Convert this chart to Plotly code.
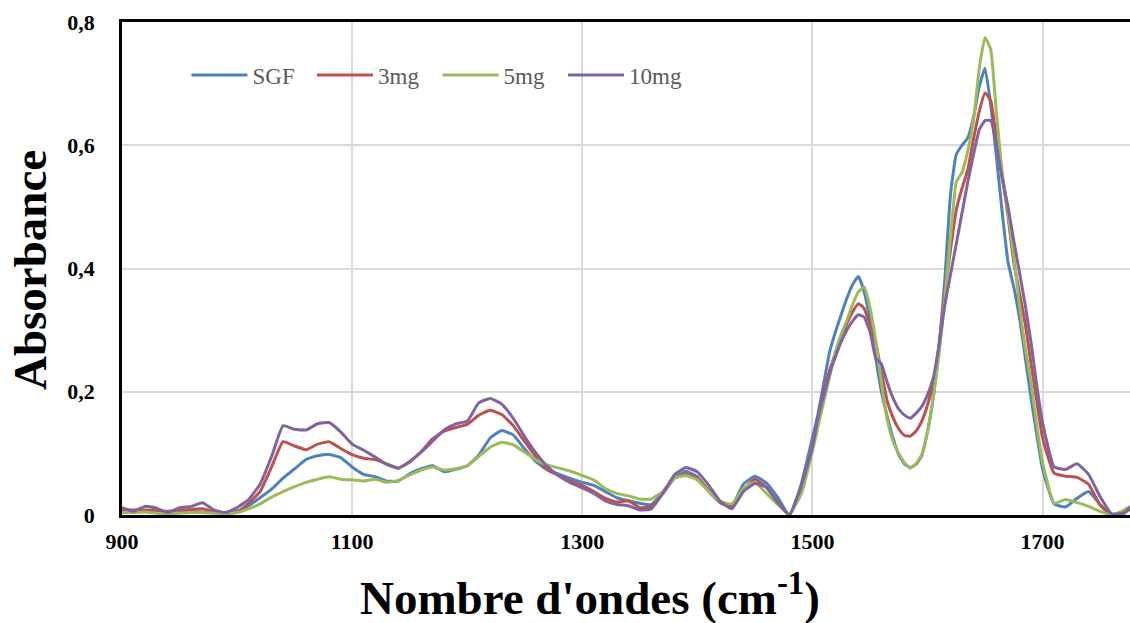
import plotly.graph_objects as go

# Wavenumber grid (cm-1)
wavenumber = (list(range(900, 1501, 10)) + list(range(1505, 1701, 5))
              + [1710, 1720, 1730, 1740, 1750, 1760, 1770, 1776])

sgf = [0.006, 0.005, 0.006, 0.004, 0.003, 0.004, 0.005, 0.005, 0.004, 0.003,
       0.006, 0.015, 0.028, 0.042, 0.060, 0.075, 0.090, 0.096, 0.098, 0.093,
       0.078, 0.066, 0.062, 0.055, 0.055, 0.067, 0.075, 0.080, 0.070, 0.074,
       0.080, 0.097, 0.125, 0.137, 0.130, 0.107, 0.086, 0.073, 0.066, 0.059,
       0.053, 0.048, 0.038, 0.028, 0.023, 0.019, 0.017, 0.036, 0.060, 0.071,
       0.062, 0.038, 0.020, 0.015, 0.050, 0.063, 0.052, 0.028, 0.000, 0.048,
       0.125,
       0.165, 0.215, 0.265, 0.297, 0.325, 0.352, 0.374, 0.387, 0.362, 0.316,
       0.255, 0.200, 0.160, 0.125, 0.098, 0.083, 0.077, 0.082, 0.096, 0.135,
       0.190, 0.270, 0.380, 0.520, 0.585, 0.600, 0.612, 0.645, 0.695, 0.725,
       0.665, 0.580, 0.490, 0.410, 0.370, 0.320, 0.255, 0.190, 0.130, 0.075,
       0.018, 0.013, 0.027, 0.038, 0.017, 0.000, 0.002, 0.012]

mg3 = [0.009, 0.008, 0.008, 0.007, 0.006, 0.008, 0.009, 0.010, 0.005, 0.001,
       0.005, 0.019, 0.038, 0.078, 0.119, 0.112, 0.106, 0.115, 0.119, 0.108,
       0.098, 0.092, 0.090, 0.083, 0.076, 0.086, 0.103, 0.124, 0.136, 0.142,
       0.147, 0.162, 0.170, 0.163, 0.145, 0.119, 0.094, 0.073, 0.064, 0.055,
       0.048, 0.038, 0.027, 0.021, 0.023, 0.012, 0.014, 0.035, 0.060, 0.066,
       0.060, 0.040, 0.020, 0.013, 0.040, 0.058, 0.045, 0.020, 0.000, 0.040,
       0.110,
       0.155, 0.200, 0.235, 0.262, 0.287, 0.311, 0.330, 0.343, 0.335, 0.310,
       0.280, 0.232, 0.185, 0.158, 0.140, 0.129, 0.128, 0.136, 0.152, 0.178,
       0.215, 0.275, 0.360, 0.430, 0.495, 0.530, 0.560, 0.610, 0.655, 0.685,
       0.672, 0.610, 0.550, 0.485, 0.410, 0.360, 0.310, 0.245, 0.185, 0.125,
       0.068, 0.063, 0.061, 0.050, 0.016, 0.000, 0.002, 0.010]

mg5 = [0.004, 0.004, 0.005, 0.003, 0.002, 0.003, 0.004, 0.004, 0.003, 0.002,
       0.004, 0.010, 0.018, 0.029, 0.038, 0.046, 0.053, 0.058, 0.062, 0.058,
       0.057, 0.055, 0.058, 0.053, 0.056, 0.065, 0.073, 0.078, 0.073, 0.075,
       0.080, 0.095, 0.110, 0.118, 0.114, 0.102, 0.089, 0.081, 0.076, 0.071,
       0.064, 0.057, 0.043, 0.035, 0.031, 0.026, 0.026, 0.038, 0.060, 0.064,
       0.057, 0.038, 0.022, 0.018, 0.043, 0.053, 0.035, 0.017, 0.002, 0.033,
       0.103,
       0.145, 0.185, 0.225, 0.265, 0.293, 0.316, 0.342, 0.362, 0.370, 0.337,
       0.283, 0.215, 0.155, 0.120, 0.100, 0.085, 0.076, 0.083, 0.098, 0.135,
       0.190, 0.260, 0.350, 0.450, 0.540, 0.556, 0.590, 0.640, 0.725, 0.775,
       0.755, 0.650, 0.555, 0.490, 0.420, 0.340, 0.270, 0.215, 0.145, 0.085,
       0.019, 0.025, 0.020, 0.014, 0.006, 0.000, 0.007, 0.014]

mg10 = [0.012, 0.006, 0.014, 0.011, 0.004, 0.012, 0.014, 0.020, 0.008, 0.004,
        0.012, 0.025, 0.050, 0.095, 0.145, 0.139, 0.138, 0.148, 0.150, 0.135,
        0.115, 0.105, 0.094, 0.082, 0.076, 0.087, 0.102, 0.120, 0.138, 0.148,
        0.152, 0.182, 0.189, 0.180, 0.157, 0.127, 0.100, 0.078, 0.063, 0.052,
        0.044, 0.035, 0.023, 0.017, 0.015, 0.008, 0.010, 0.035, 0.065, 0.077,
        0.070, 0.048, 0.022, 0.010, 0.038, 0.051, 0.045, 0.020, 0.000, 0.045,
        0.110,
        0.160, 0.195, 0.230, 0.257, 0.281, 0.300, 0.315, 0.325, 0.321, 0.298,
        0.255, 0.245, 0.215, 0.190, 0.172, 0.162, 0.157, 0.165, 0.176, 0.195,
        0.222, 0.275, 0.340, 0.390, 0.440, 0.490, 0.540, 0.585, 0.625, 0.640,
        0.640, 0.600, 0.545, 0.500, 0.445, 0.393, 0.340, 0.280, 0.210, 0.150,
        0.078, 0.074, 0.083, 0.066, 0.030, 0.002, 0.003, 0.012]

series_names = ["SGF", "3mg", "5mg", "10mg"]
series_values = [sgf, mg3, mg5, mg10]
series_colors = ["#4F81BD", "#C0504D", "#9BBB59", "#8064A2"]

x_ticks = [900, 1100, 1300, 1500, 1700]
y_ticks = [0, 0.2, 0.4, 0.6, 0.8]

serif = "Liberation Serif"

fig = go.Figure()
for name, vals, col in zip(series_names, series_values, series_colors):
    fig.add_trace(go.Scatter(x=wavenumber, y=vals, mode="lines", name=name,
                             line=dict(color=col, width=3, shape="spline", smoothing=0.4)))

pw, ph = 1130 - 122, 623 - 22 - 108

fig.update_layout(
    width=1130, height=623,
    margin=dict(l=122, r=0, t=22, b=108),
    paper_bgcolor="white", plot_bgcolor="white",
    separators=", ",
    showlegend=True,
    legend=dict(orientation="h", x=0.064, y=(515 - 75) / ph, xanchor="left", yanchor="middle",
                font=dict(family=serif, size=23, color="#595959"),
                bgcolor="rgba(0,0,0,0)", entrywidth=54.5, itemwidth=56),
    xaxis=dict(range=[900, 1776], tickvals=x_ticks, showgrid=True,
               gridcolor="#D9D9D9", gridwidth=1.5,
               showline=True, linecolor="black", linewidth=3, mirror=True,
               ticks="", ticklabelstandoff=5,
               tickfont=dict(family=serif, size=22, color="black", weight="bold"),
               zeroline=False),
    yaxis=dict(range=[0, 0.8], tickvals=y_ticks, showgrid=True,
               gridcolor="#D9D9D9", gridwidth=1.5,
               showline=True, linecolor="black", linewidth=2.5, mirror=False,
               ticks="", ticklabelstandoff=20,
               tickfont=dict(family=serif, size=22, color="black", weight="bold"),
               zeroline=False),
    annotations=[
        dict(text="<b>Nombre d'ondes (cm<sup>-1</sup>)</b>",
             x=(590 - 122) / pw, xref="paper", y=(515 - 594) / ph, yref="paper",
             showarrow=False, font=dict(family=serif, size=47, color="black"),
             xanchor="center", yanchor="middle"),
        dict(text="<b>Absorbance</b>", textangle=-90,
             x=(30 - 122) / pw, xref="paper", y=(515 - 270) / ph, yref="paper",
             showarrow=False, font=dict(family=serif, size=47, color="black"),
             xanchor="center", yanchor="middle"),
    ],
)

fig.write_html("out.html")
